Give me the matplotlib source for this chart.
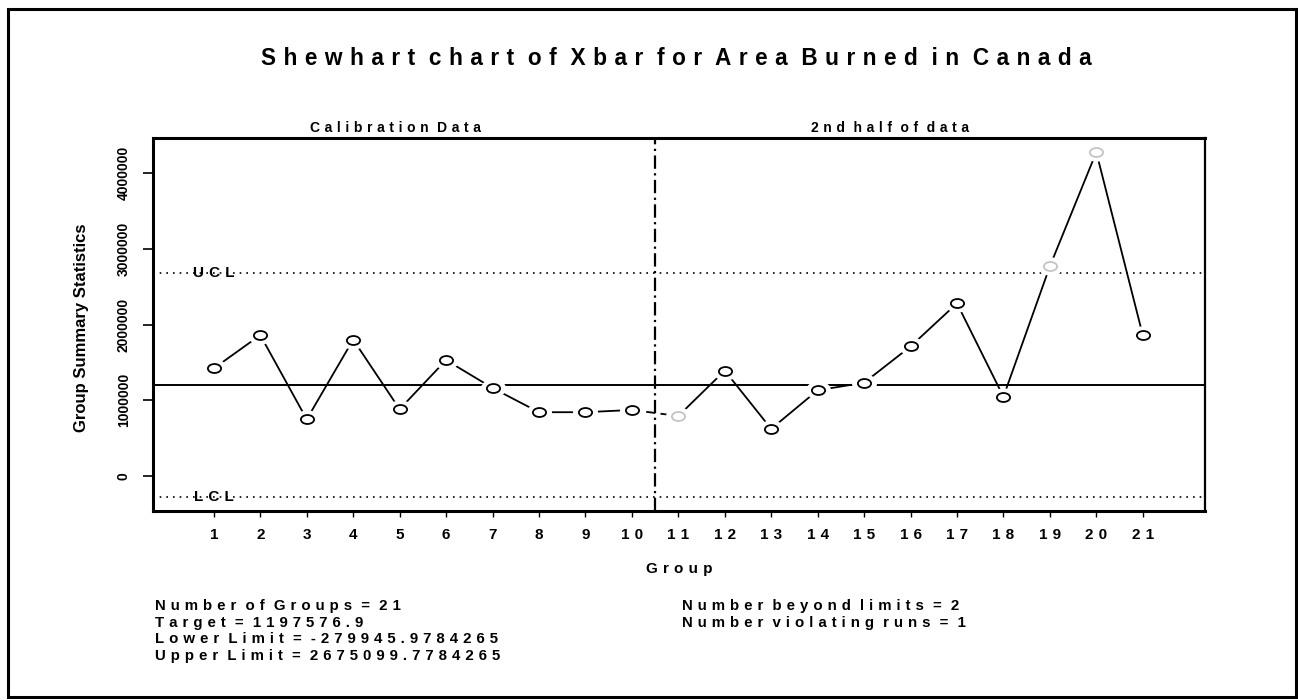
import matplotlib
matplotlib.use('Agg')
import matplotlib.pyplot as plt
from matplotlib.path import Path
from matplotlib.transforms import Affine2D
from matplotlib.patches import Rectangle

plt.rcParams['font.family'] = ['Liberation Sans', 'DejaVu Sans']

W, H = 1298, 700

# group means (area burned, hectares)
groups = list(range(1, 22))
xbar = [1420000, 1860000, 746000, 1800000, 880000, 1530000, 1160000, 840000,
        840000, 870000, 790000, 1390000, 620000, 1130000, 1230000, 1710000,
        2280000, 1045000, 2770000, 4280000, 1860000]
n_calib = 10
target = 1197576.9
lower = -279945.9784265
upper = 2675099.7784265
flagged = [11, 19, 20]

yticks = [0, 1000000, 2000000, 3000000, 4000000]

stats_left = ['Number of Groups = 21',
              'Target = 1197576.9',
              'Lower Limit = -279945.9784265',
              'Upper Limit = 2675099.7784265']
stats_right = ['Number beyond limits = 2',
               'Number violating runs = 1']

GAP = '\u2004'


def spaced(s):
    # wide letter tracking like the old S-PLUS device fonts
    return (GAP + ' ').join(GAP.join(w) for w in s.split(' '))


def fx(px):
    return px / W


def fy(py):
    return 1 - py / H


fig = plt.figure(figsize=(W / 100, H / 100), dpi=100)
fig.patches.append(Rectangle((fx(8), fy(697)), fx(1288), 688 / H, transform=fig.transFigure,
                             fill=False, lw=2.2, ec='black'))

ax = fig.add_axes([fx(153), fy(510.5), fx(1205 - 153), (510.5 - 138) / H])

# limits and centre line
ax.axhline(target, color='black', lw=1.4, zorder=2)
ax.axhline(upper, color='black', lw=1.2, ls=(0, (1, 3)), zorder=2)
ax.axhline(lower, color='black', lw=1.2, ls=(0, (1, 3)), zorder=2)
ax.axvline(n_calib + 0.5, color='black', lw=1.6, ls=(0, (6, 2, 1, 2)), zorder=2)
ax.text(1, upper, spaced('UCL'), ha='center', va='center', fontsize=11, fontweight='bold', zorder=3)
ax.text(1, lower, spaced('LCL'), ha='center', va='center', fontsize=11, fontweight='bold', zorder=3)

# connecting line, broken across the calibration boundary
ax.plot(groups[:n_calib], xbar[:n_calib], color='black', lw=1.3, zorder=3)
ax.plot(groups[n_calib:], xbar[n_calib:], color='black', lw=1.3, zorder=3)
ax.plot(groups[n_calib - 1:n_calib + 1], xbar[n_calib - 1:n_calib + 1], color='black',
        lw=1.3, ls=(0, (5, 3)), zorder=3)

# open elliptical symbols with a white halo so the line stops short of them
ell = Path.unit_circle().transformed(Affine2D().scale(1.0, 0.68))
ax.plot(groups, xbar, ls='', marker=ell, ms=15, mfc='white', mec='white', mew=3, zorder=4)
ink = ['#c4c4c4' if g in flagged else 'black' for g in groups]
for g, v, c in zip(groups, xbar, ink):
    ax.plot(g, v, ls='', marker=ell, ms=9.5, mfc='white', mec=c, mew=1.3, zorder=5)

ax.set_xlim(-0.31, 22.34)
ax.set_ylim(-460000, 4467000)
ax.set_xticks(groups)
ax.set_xticklabels([spaced(str(g)) for g in groups], fontsize=11, fontweight='bold')
ax.set_yticks(yticks)
ax.set_yticklabels([str(v) for v in yticks], rotation=90, va='center', fontsize=10,
                   fontweight='bold')
ax.tick_params(axis='x', length=4.5, width=1, pad=8)
ax.tick_params(axis='y', length=7, width=1.2, pad=9)
for side in ['left', 'bottom', 'top']:
    ax.spines[side].set_linewidth(2.2)
ax.spines['right'].set_linewidth(1.6)

# headings
fig.text(fx(676.5), fy(65), spaced('Shewhart chart of Xbar for Area Burned in Canada'),
         ha='center', va='baseline', fontsize=16.3, fontweight='bold')
fig.text(fx(395), fy(131.5), spaced('Calibration Data'), ha='center', va='baseline',
         fontsize=10, fontweight='bold')
fig.text(fx(890), fy(131.5), spaced('2nd half of data'), ha='center', va='baseline',
         fontsize=10, fontweight='bold')
fig.text(fx(679), fy(573), spaced('Group'), ha='center', va='baseline', fontsize=11,
         fontweight='bold')
fig.text(fx(81.7), fy(328), 'Group Summary Statistics', rotation=90, ha='center',
         va='center', fontsize=12, fontweight='bold')

for i, line in enumerate(stats_left):
    fig.text(fx(155), fy(610 + 16.7 * i), spaced(line), ha='left', va='baseline',
             fontsize=10.8, fontweight='bold')
for i, line in enumerate(stats_right):
    fig.text(fx(681.5), fy(610 + 16.7 * i), spaced(line), ha='left', va='baseline',
             fontsize=10.8, fontweight='bold')

fig.savefig('out.png', dpi=100)
